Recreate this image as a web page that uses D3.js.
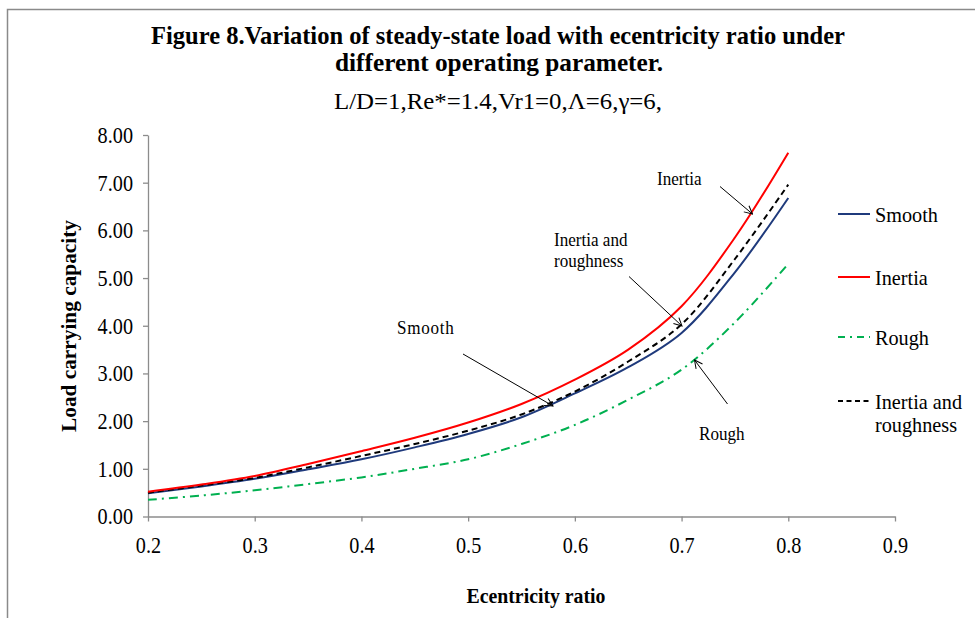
<!DOCTYPE html>
<html>
<head>
<meta charset="utf-8">
<script src="https://cdn.jsdelivr.net/npm/d3@7"></script>
<style>
  body { margin: 0; background: #fff; }
  svg { display: block; font-family: "Liberation Serif", "Times New Roman", serif; }
</style>
</head>
<body>
<svg id="chart"></svg>
<script>
// eccentricity ratio values
const ratios = [0.2, 0.25, 0.3, 0.35, 0.4, 0.45, 0.5, 0.55, 0.6, 0.65, 0.7, 0.75, 0.8];
// load carrying capacity per case
const smoothLoad = [0.49, 0.63, 0.79, 0.99, 1.2, 1.45, 1.73, 2.08, 2.58, 3.13, 3.85, 5.12, 6.68];
const inertiaLoad = [0.52, 0.67, 0.85, 1.1, 1.37, 1.65, 1.97, 2.36, 2.87, 3.5, 4.41, 5.85, 7.63];
const roughLoad = [0.35, 0.44, 0.55, 0.68, 0.82, 1.0, 1.2, 1.52, 1.92, 2.45, 3.08, 4.07, 5.3];
const inertiaRoughLoad = [0.5, 0.65, 0.81, 1.03, 1.27, 1.52, 1.8, 2.14, 2.62, 3.25, 4.03, 5.4, 6.96];
const seriesNames = ["Smooth", "Inertia", "Rough", "Inertia and roughness"];
const xTicks = [0.2, 0.3, 0.4, 0.5, 0.6, 0.7, 0.8, 0.9];
const yTicks = [0, 1, 2, 3, 4, 5, 6, 7, 8];

const w = 975;
const h = 618;
const axisColor = "#8c8c8c";

const svg = d3.select("#chart").attr("width", w).attr("height", h);

// chart area border (cut off at right and bottom)
svg.append("path")
  .attr("d", `M7.5,${h} L7.5,9.5 L${w},9.5`)
  .attr("fill", "none")
  .attr("stroke", "#8a8a8a")
  .attr("stroke-width", 1.5);

// titles
svg.append("text")
  .attr("x", 498).attr("y", 44)
  .attr("text-anchor", "middle")
  .style("font-weight", "bold").style("font-size", "26px")
  .attr("textLength", 694).attr("lengthAdjust", "spacingAndGlyphs")
  .text("Figure 8.Variation of steady-state load with  ecentricity ratio under");
svg.append("text")
  .attr("x", 499).attr("y", 71)
  .attr("text-anchor", "middle")
  .style("font-weight", "bold").style("font-size", "26px")
  .attr("textLength", 328).attr("lengthAdjust", "spacingAndGlyphs")
  .text("different operating parameter.");
svg.append("text")
  .attr("x", 498).attr("y", 109)
  .attr("text-anchor", "middle")
  .style("font-size", "24px")
  .attr("textLength", 328).attr("lengthAdjust", "spacingAndGlyphs")
  .text("L/D=1,Re*=1.4,Vr1=0,\u039B=6,\u03B3=6,");

const xScale = d3.scaleLinear().domain([0.2, 0.9]).range([148, 895]);
const yScale = d3.scaleLinear().domain([0, 8]).range([516.5, 135]);

const xAxis = d3.axisBottom(xScale).tickValues(xTicks).tickFormat(d3.format(".1f"))
  .tickSizeInner(5).tickSizeOuter(0).tickPadding(16);
const yAxis = d3.axisLeft(yScale).tickValues(yTicks).tickFormat(d3.format(".2f"))
  .tickSizeInner(5).tickSizeOuter(0).tickPadding(10);

const gx = svg.append("g").attr("id", "x-axis")
  .attr("transform", `translate(0,${yScale(0)})`).call(xAxis);
const gy = svg.append("g").attr("id", "y-axis")
  .attr("transform", `translate(${xScale(0.2)},0)`).call(yAxis);

[gx, gy].forEach((g) => {
  g.attr("font-family", null).attr("font-size", null);
  g.selectAll("path, line").attr("stroke", axisColor).attr("stroke-width", 1.3);
  g.selectAll("text").style("font-size", "23px").attr("fill", "#000");
});
// narrow the tick labels a little, like the original
gx.selectAll("text").attr("transform", "scale(0.88,1)").attr("dy", "0.68em");
gy.selectAll("text").attr("transform", "scale(0.88,1)").attr("x", -15 / 0.88);

// axis titles
svg.append("text")
  .attr("transform", "translate(76,326) rotate(-90)")
  .attr("text-anchor", "middle")
  .style("font-weight", "bold").style("font-size", "22px")
  .attr("textLength", 212).attr("lengthAdjust", "spacingAndGlyphs")
  .text("Load carrying  capacity");
svg.append("text")
  .attr("x", 536).attr("y", 603)
  .attr("text-anchor", "middle")
  .style("font-weight", "bold").style("font-size", "22px")
  .attr("textLength", 139).attr("lengthAdjust", "spacingAndGlyphs")
  .text("Ecentricity ratio");

// series
const series = [
  { name: seriesNames[0], values: smoothLoad, color: "#1f3a7c", dash: null },
  { name: seriesNames[1], values: inertiaLoad, color: "#ff0000", dash: null },
  { name: seriesNames[2], values: roughLoad, color: "#00b050", dash: "9,5,2,5" },
  { name: seriesNames[3], values: inertiaRoughLoad, color: "#000000", dash: "6,4" },
];

const line = d3.line()
  .x((d) => xScale(d[0]))
  .y((d) => yScale(d[1]))
  .curve(d3.curveCatmullRom.alpha(0.5));

const drawOrder = [2, 0, 3, 1];
drawOrder.forEach((i) => {
  const s = series[i];
  svg.append("path")
    .datum(ratios.map((r, k) => [r, s.values[k]]))
    .attr("d", line)
    .attr("fill", "none")
    .attr("stroke", s.color)
    .attr("stroke-width", 2)
    .attr("stroke-dasharray", s.dash);
});

// legend
const legendY = [214, 277, 337, 401];
const legend = svg.append("g").attr("id", "legend");
series.forEach((s, i) => {
  legend.append("line")
    .attr("x1", 838).attr("x2", 870)
    .attr("y1", legendY[i]).attr("y2", legendY[i])
    .attr("stroke", s.color).attr("stroke-width", 2)
    .attr("stroke-dasharray", s.dash ? (i === 2 ? "7,5,2,5" : "5,3.5") : null);
});
const legendText = [["Smooth"], ["Inertia"], ["Rough"], ["Inertia and", "roughness"]];
legendText.forEach((lines, i) => {
  lines.forEach((t, j) => {
    legend.append("text")
      .attr("transform", `translate(875,${legendY[i] + 8 + j * 23}) scale(0.92,1)`)
      .style("font-size", "22px")
      .text(t);
  });
});

// annotations with arrows
const defs = svg.append("defs");
defs.append("marker")
  .attr("id", "arrow")
  .attr("viewBox", "0 0 10 10")
  .attr("refX", 9).attr("refY", 5)
  .attr("markerWidth", 10).attr("markerHeight", 10)
  .attr("markerUnits", "userSpaceOnUse")
  .attr("orient", "auto")
  .append("path")
  .attr("d", "M1,1 L9,5 L1,9")
  .attr("fill", "none")
  .attr("stroke", "#000")
  .attr("stroke-width", 1);

const annotations = [
  { lines: ["Inertia"], x: 657, y: 185, from: [720, 186.5], to: [752.5, 214] },
  { lines: ["Inertia and", "roughness"], x: 554, y: 246, from: [629, 276.5], to: [682, 326] },
  { lines: ["Smooth"], x: 397, y: 334, from: [463, 354], to: [553, 406] },
  { lines: ["Rough"], x: 699, y: 440, from: [727.5, 404], to: [694.5, 360] },
];
annotations.forEach((a) => {
  a.lines.forEach((t, j) => {
    svg.append("text")
      .attr("transform", `translate(${a.x},${a.y + j * 21}) scale(0.9,1)`)
      .style("font-size", "19px")
      .style("letter-spacing", a.lines[0] === "Smooth" ? "0.8px" : null)
      .text(t);
  });
  svg.append("line")
    .attr("x1", a.from[0]).attr("y1", a.from[1])
    .attr("x2", a.to[0]).attr("y2", a.to[1])
    .attr("stroke", "#000").attr("stroke-width", 1)
    .attr("marker-end", "url(#arrow)");
});
</script>
</body>
</html>
